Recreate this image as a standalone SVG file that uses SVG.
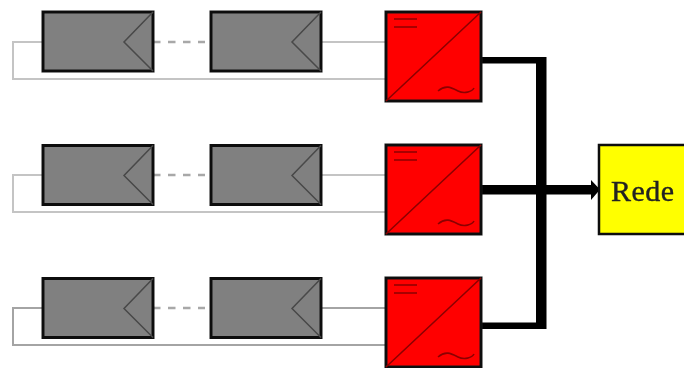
<svg xmlns="http://www.w3.org/2000/svg" width="684" height="368" viewBox="0 0 684 368">
<defs>
<style>
.panel{fill:#808080;stroke:#111;stroke-width:3}
.tri{fill:none;stroke:#484848;stroke-width:1.5}
.inv{fill:#f00;stroke:#111;stroke-width:3}
.sym{fill:none;stroke:#8c0000;stroke-width:1.6}
.wire{fill:none;stroke:#c4c4c4;stroke-width:2}
.dash{fill:none;stroke:#a8a8a8;stroke-width:2.5;stroke-dasharray:7.500 7.500}
</style>
<filter id="soft" filterUnits="userSpaceOnUse" x="0" y="0" width="684" height="368"><feGaussianBlur stdDeviation="0.7"/></filter>
<g id="pv"><rect class="panel" x="0" y="0" width="110" height="59"/><path class="tri" d="M110 0L81 30L110 59"/></g>
<g id="conv"><rect class="inv" x="0" y="0" width="95" height="89"/><path class="sym" d="M0 89L95 0M8 7H31M8 15H31M52 79C60 72 66 76 72 79C78 82 86 80 88 76"/></g>
</defs>
<rect width="684" height="368" fill="#fff"/>
<g filter="url(#soft)">
<g id="connectors">
<path class="wire" d="M43 42H13V79H386M321 42H386"/>
<path class="dash" d="M153 42H205"/>
<path class="wire" d="M43 175H13V212H386M321 175H386"/>
<path class="dash" d="M153 175H205"/>
<path class="wire" d="M43 308H13V345H386M321 308H386" style="stroke:#a4a4a4"/>
<path class="dash" d="M153 308H205"/>
<path d="M482 57H546.500V329H482V322.500H536V63.500H482Z" fill="#000"/>
<path d="M482 185H591V180L600 189.500L591 200V194.500H482Z" fill="#000"/>
</g>
<g id="pv1a"><use href="#pv" x="43" y="12"/></g>
<g id="pv1b"><use href="#pv" x="211" y="12"/></g>
<g id="inv1"><use href="#conv" x="386" y="12"/></g>
<g id="pv2a"><use href="#pv" x="43" y="145.500"/></g>
<g id="pv2b"><use href="#pv" x="211" y="145.500"/></g>
<g id="inv2"><use href="#conv" x="386" y="145"/></g>
<g id="pv3a"><use href="#pv" x="43" y="278.500"/></g>
<g id="pv3b"><use href="#pv" x="211" y="278.500"/></g>
<g id="inv3"><use href="#conv" x="386" y="278"/></g>
<g id="rede">
<rect x="599" y="145" width="90" height="89" fill="#ff0" stroke="#111" stroke-width="2.500"/>
<text x="611" y="201" font-family="'Liberation Serif',serif" font-size="30" fill="#222" stroke="#222" stroke-width="0.4" textLength="63">Rede</text>
</g>
</g>
</svg>
